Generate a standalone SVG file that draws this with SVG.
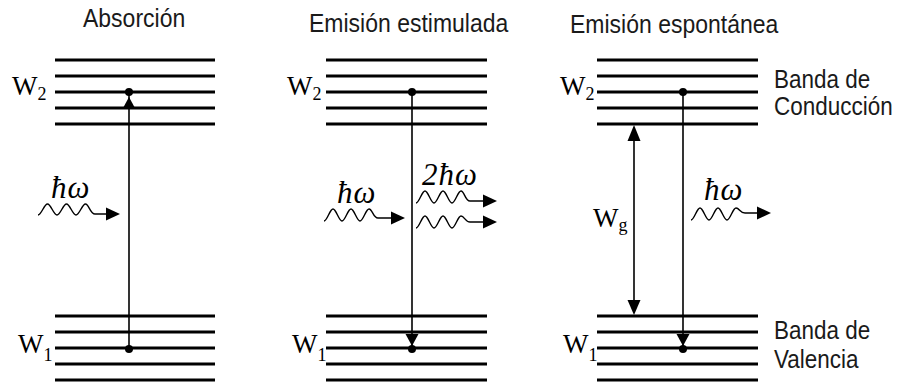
<svg xmlns="http://www.w3.org/2000/svg" width="898" height="385" viewBox="0 0 898 385">
<defs>
<style>
.lvl{stroke:#000;stroke-width:3;fill:none}
.vert{stroke:#000;stroke-width:1.6;fill:none}
.wave{stroke:#000;stroke-width:1.4;fill:none}
.head{fill:#000;stroke:none}
.title{font-family:"Liberation Sans",Arial,sans-serif;font-size:23px;fill:#1a1a1a}
.band{font-family:"Liberation Sans",Arial,sans-serif;font-size:22.5px;fill:#1a1a1a}
.w{font-family:"Liberation Serif","Times New Roman",serif;font-size:27px;fill:#000}
.sub{font-size:18px}
.hw{font-family:"Liberation Serif","Times New Roman",serif;font-style:italic;font-size:31px;fill:#000;letter-spacing:1px}
</style>
</defs>
<rect width="898" height="385" fill="#fff"/>

<g id="titles">
<text class="title" transform="translate(83,27) scale(1,1.12)">Absorción</text>
<text class="title" transform="translate(309,32) scale(1,1.12)">Emisión estimulada</text>
<text class="title" transform="translate(570,33) scale(1,1.12)">Emisión espontánea</text>
</g>

<g id="panel1">
<g id="p1-upper">
<line class="lvl" x1="55" y1="60" x2="215" y2="60"/>
<line class="lvl" x1="55" y1="76" x2="215" y2="76"/>
<line class="lvl" x1="55" y1="92" x2="215" y2="92"/>
<line class="lvl" x1="55" y1="108" x2="215" y2="108"/>
<line class="lvl" x1="55" y1="124" x2="215" y2="124"/>
</g>
<g id="p1-lower">
<line class="lvl" x1="55" y1="316" x2="215" y2="316"/>
<line class="lvl" x1="55" y1="332" x2="215" y2="332"/>
<line class="lvl" x1="55" y1="348" x2="215" y2="348"/>
<line class="lvl" x1="55" y1="364" x2="215" y2="364"/>
<line class="lvl" x1="55" y1="380" x2="215" y2="380"/>
</g>
<text class="w" x="12" y="95">W<tspan class="sub" dy="5">2</tspan></text>
<text class="w" x="18" y="353">W<tspan class="sub" dy="8">1</tspan></text>
<text class="hw" x="51" y="198">ħω</text>
</g>

<g id="panel2">
<g id="p2-upper">
<line class="lvl" x1="326" y1="60" x2="487" y2="60"/>
<line class="lvl" x1="326" y1="76" x2="487" y2="76"/>
<line class="lvl" x1="326" y1="92" x2="487" y2="92"/>
<line class="lvl" x1="326" y1="108" x2="487" y2="108"/>
<line class="lvl" x1="326" y1="124" x2="487" y2="124"/>
</g>
<g id="p2-lower">
<line class="lvl" x1="326" y1="316" x2="487" y2="316"/>
<line class="lvl" x1="326" y1="332" x2="487" y2="332"/>
<line class="lvl" x1="326" y1="348" x2="487" y2="348"/>
<line class="lvl" x1="326" y1="364" x2="487" y2="364"/>
<line class="lvl" x1="326" y1="380" x2="487" y2="380"/>
</g>
<text class="w" x="287" y="95">W<tspan class="sub" dy="5">2</tspan></text>
<text class="w" x="292" y="353">W<tspan class="sub" dy="8">1</tspan></text>
<text class="hw" x="337" y="203">ħω</text>
<text class="hw" x="422" y="185">2ħω</text>
</g>

<g id="panel3">
<g id="p3-upper">
<line class="lvl" x1="597" y1="60" x2="758" y2="60"/>
<line class="lvl" x1="597" y1="76" x2="758" y2="76"/>
<line class="lvl" x1="597" y1="92" x2="758" y2="92"/>
<line class="lvl" x1="597" y1="108" x2="758" y2="108"/>
<line class="lvl" x1="597" y1="124" x2="758" y2="124"/>
</g>
<g id="p3-lower">
<line class="lvl" x1="597" y1="316" x2="758" y2="316"/>
<line class="lvl" x1="597" y1="332" x2="758" y2="332"/>
<line class="lvl" x1="597" y1="348" x2="758" y2="348"/>
<line class="lvl" x1="597" y1="364" x2="758" y2="364"/>
<line class="lvl" x1="597" y1="380" x2="758" y2="380"/>
</g>
<text class="w" x="560" y="95">W<tspan class="sub" dy="5">2</tspan></text>
<text class="w" x="563" y="353">W<tspan class="sub" dy="8">1</tspan></text>
<text class="w" x="593" y="227">W<tspan class="sub" dy="4">g</tspan></text>
<text class="hw" x="704" y="200">ħω</text>
<text class="band" transform="translate(774,88) scale(1,1.12)">Banda de</text>
<text class="band" transform="translate(774,115) scale(1,1.12)">Conducción</text>
<text class="band" transform="translate(774,339) scale(1,1.12)">Banda de</text>
<text class="band" transform="translate(774,368) scale(1,1.12)">Valencia</text>
</g>

<g id="connectors">
<line class="vert" x1="129" y1="92" x2="129" y2="349"/>
<circle cx="129" cy="92" r="4"/>
<circle cx="129" cy="349" r="4"/>
<polygon class="head" points="129,97 122.5,109 135.5,109"/>
<path class="wave" d="M38,215 C41.4,215 44.1,204 47.5,204 C50.9,204 53.6,215 57,215 C60.4,215 63.1,204 66.5,204 C69.9,204 72.6,215 76,215 C79.4,215 82.1,204 85.5,204 C89,204 90,214 95,214 L108,214"/>
<polygon class="head" points="106,207.5 120,214 106,220.5"/>

<line class="vert" x1="412" y1="92" x2="412" y2="349"/>
<circle cx="412" cy="92" r="4"/>
<circle cx="412" cy="349" r="4"/>
<polygon class="head" points="412,346 405.5,334 418.5,334"/>
<path class="wave" d="M324,221 C327.2,221 329.8,209 333,209 C336.2,209 338.8,221 342,221 C345.2,221 347.8,209 351,209 C354.2,209 356.8,221 360,221 C363.2,221 365.8,209 369,209 C372.5,209 373,218 378,218 L393,218"/>
<polygon class="head" points="391,211.5 405,218 391,224.5"/>
<path class="wave" d="M416,203 C419.2,203 421.8,191 425,191 C428.2,191 430.8,203 434,203 C437.2,203 439.8,191 443,191 C446.2,191 448.8,203 452,203 C455.2,203 457.8,191 461,191 C464.5,191 465,201 470,201 L485,201"/>
<polygon class="head" points="483,194.5 497,201 483,207.5"/>
<path class="wave" d="M416,228 C419.2,228 421.8,216 425,216 C428.2,216 430.8,228 434,228 C437.2,228 439.8,216 443,216 C446.2,216 448.8,228 452,228 C455.2,228 457.8,216 461,216 C464.5,216 465,222 470,222 L485,222"/>
<polygon class="head" points="483,215.5 497,222 483,228.5"/>

<line class="vert" x1="683" y1="92" x2="683" y2="349"/>
<circle cx="683" cy="92" r="4"/>
<circle cx="683" cy="349" r="4"/>
<polygon class="head" points="683,346 676.5,334 689.5,334"/>
<line class="vert" x1="634" y1="130" x2="634" y2="310"/>
<polygon class="head" points="634,125 627.5,141 640.5,141"/>
<polygon class="head" points="634,315 627.5,300 640.5,300"/>
<path class="wave" d="M691,220 C694.2,220 696.8,208 700,208 C703.2,208 705.8,220 709,220 C712.2,220 714.8,208 718,208 C721.2,208 723.8,220 727,220 C730.2,220 732.8,208 736,208 C739.5,208 740,213 745,213 L758,213"/>
<polygon class="head" points="757,206.5 771,213 757,219.5"/>
</g>
</svg>
